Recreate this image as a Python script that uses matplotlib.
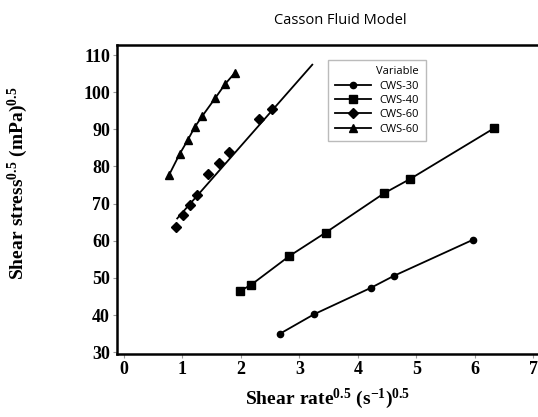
import matplotlib
matplotlib.use("Agg")
import matplotlib.pyplot as plt
import numpy as np

# ---- data ----
cws30_x = [2.66, 3.25, 4.22, 4.61, 5.96]
cws30_y = [34.9, 40.2, 47.3, 50.5, 60.2]

cws40_x = [1.98, 2.18, 2.83, 3.45, 4.45, 4.89, 6.33]
cws40_y = [46.4, 48.2, 55.9, 62.2, 72.8, 76.6, 90.3]

cws60a_x = [0.89, 1.01, 1.13, 1.24, 1.44, 1.62, 1.79, 2.31, 2.53]
cws60a_y = [63.8, 66.9, 69.7, 72.4, 78.0, 81.0, 84.0, 92.7, 95.5]
cws60a_fit_x = [0.91, 3.22]
cws60a_fit_y = [66.0, 107.4]

cws60b_x = [0.77, 0.95, 1.09, 1.21, 1.34, 1.56, 1.73, 1.89]
cws60b_y = [77.7, 83.3, 87.1, 90.6, 93.6, 98.4, 102.2, 105.1]

labels = ["CWS-30", "CWS-40", "CWS-60", "CWS-60"]
x_ticks = [0, 1, 2, 3, 4, 5, 6, 7]
y_ticks = [30, 40, 50, 60, 70, 80, 90, 100, 110]

plt.rcParams['mathtext.fontset'] = 'custom'
plt.rcParams['mathtext.rm'] = 'Liberation Serif:bold'
plt.rcParams['mathtext.bf'] = 'Liberation Serif:bold'
plt.rcParams['mathtext.it'] = 'Liberation Serif:bold'

fig = plt.figure(figsize=(5.38, 4.17), dpi=100)
ax = fig.add_axes([117/538, (417-354)/417, (538-117)/538, (354-45)/417])

lw = 1.3
ax.plot(cws30_x, cws30_y, color='black', lw=lw, marker='o', ms=4.5, label=labels[0])
ax.plot(cws40_x, cws40_y, color='black', lw=lw, marker='s', ms=5.2, label=labels[1])
ax.plot(cws60a_fit_x, cws60a_fit_y, color='black', lw=lw)
ax.plot(cws60a_x, cws60a_y, color='black', lw=0, marker='D', ms=4.8)
ax.plot([], [], color='black', lw=lw, marker='D', ms=4.8, label=labels[2])
ax.plot(cws60b_x, cws60b_y, color='black', lw=lw, marker='^', ms=6, label=labels[3])

ax.set_xlim(-0.12, 7.08)
ax.set_ylim(29.5, 112.7)
ax.set_xticks(x_ticks)
ax.set_yticks(y_ticks)
ax.set_xticklabels([str(t) for t in x_ticks], fontfamily='Liberation Serif', fontweight='bold', fontsize=13)
ax.set_yticklabels([str(t) for t in y_ticks], fontfamily='Liberation Serif', fontweight='bold', fontsize=13)
ax.tick_params(axis='both', direction='out', length=3, width=0.8, color='#999999', pad=2)

for s in ['left', 'top', 'bottom']:
    ax.spines[s].set_linewidth(1.8)
ax.spines['right'].set_visible(False)

ax.set_xlabel(r'$\mathbf{Shear\ rate^{0.5}\ (s^{-1})^{0.5}}$', fontsize=14, labelpad=6)
ax.set_ylabel(r'$\mathbf{Shear\ stress^{0.5}\ (mPa)^{0.5}}$', fontsize=14)
ax.yaxis.set_label_coords(-(117-30)/421, 0.553)

fig.text(340/538, 1 - 20/417, 'Casson Fluid Model', ha='center', va='center',
         fontfamily='Open Sans', fontsize=10.5)

leg = ax.legend(loc='upper left', bbox_to_anchor=(0.489, 0.971), title='Variable',
                prop={'family': 'Open Sans', 'size': 8}, title_fontproperties={'family': 'Open Sans', 'size': 8},
                alignment='right', fancybox=False, edgecolor='#bbbbbb', framealpha=1,
                handlelength=3.2, labelspacing=0.3, borderpad=0.6, markerscale=1.0)
leg.get_frame().set_linewidth(1.0)

fig.savefig('out.png', dpi=100)
